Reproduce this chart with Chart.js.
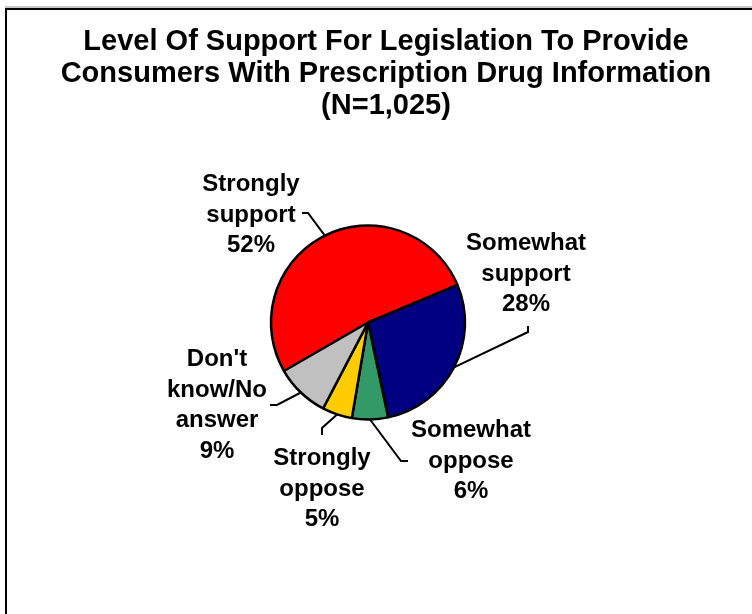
<!DOCTYPE html>
<html>
<head>
<meta charset="utf-8">
<script src="https://cdn.jsdelivr.net/npm/chart.js@4"></script>
<style>
  html, body { margin: 0; padding: 0; background: #fff; }
  #wrap { position: relative; width: 752px; height: 614px; overflow: hidden; }
  #frame { position: absolute; left: 5px; top: 8px; width: 760px; height: 640px;
           border-left: 2px solid #000; border-top: 2px solid #000; }
  #topShade { position: absolute; left: 5px; top: 6px; width: 760px; height: 2px; background: #c8c8c8; }
  canvas { position: absolute; left: 0; top: 0; }
</style>
</head>
<body>
<div id="wrap">
  <div id="topShade"></div>
  <div id="frame"></div>
  <canvas id="pieChart" width="752" height="614"></canvas>
</div>
<script>
// ---------------- Data ----------------
const titleLines = ["Level Of Support For Legislation To Provide", "Consumers With Prescription Drug Information", "(N=1,025)"];
const categories = ["Strongly support", "Somewhat support", "Somewhat oppose", "Strongly oppose", "Don't know/No answer"];
const percentages = [52, 28, 6, 5, 9];
const labelWords = [["Strongly", "support"], ["Somewhat", "support"], ["Somewhat", "oppose"], ["Strongly", "oppose"], ["Don't", "know/No", "answer"]];
const sliceColors = ["#ff0000", "#000080", "#339966", "#ffcc00", "#c0c0c0"];

// label placement: text centre x, first baseline y, leader elbow and end
const labelPlaces = [
  { x: 251, y: 191, elbow: [308, 213], end: [302, 213] },
  { x: 526, y: 250, elbow: [528, 332], end: [528, 326] },
  { x: 471, y: 437, elbow: [401, 461], end: [408, 461] },
  { x: 322, y: 465, elbow: [322, 428], end: [322, 435] },
  { x: 217, y: 366, elbow: [277, 405], end: [270, 405] }
];

const FONT = "'Liberation Sans', Arial, sans-serif";

// ---------------- Title + labels plugin ----------------
const textPlugin = {
  id: "textPlugin",
  afterDraw(chart) {
    const ctx = chart.ctx;
    ctx.save();
    ctx.fillStyle = "#000";
    ctx.textAlign = "center";
    ctx.textBaseline = "alphabetic";

    ctx.font = "bold 29px " + FONT;
    titleLines.forEach((line, i) => ctx.fillText(line, 386, 50 + i * 32));

    const arcs = chart.getDatasetMeta(0).data;
    ctx.font = "bold 24px " + FONT;
    ctx.lineWidth = 2;
    ctx.strokeStyle = "#000";
    arcs.forEach((arc, i) => {
      const p = arc.getProps(["x", "y", "startAngle", "endAngle", "outerRadius"], true);
      const mid = (p.startAngle + p.endAngle) / 2;
      const sx = p.x + Math.cos(mid) * p.outerRadius;
      const sy = p.y + Math.sin(mid) * p.outerRadius;
      const place = labelPlaces[i];
      ctx.beginPath();
      ctx.moveTo(sx, sy);
      ctx.lineTo(place.elbow[0], place.elbow[1]);
      ctx.lineTo(place.end[0], place.end[1]);
      ctx.stroke();

      const lines = labelWords[i].concat([percentages[i] + "%"]);
      lines.forEach((t, j) => ctx.fillText(t, place.x, place.y + j * 30.7));
    });
    ctx.restore();
  }
};

// ---------------- Pie ----------------
const ctx = document.getElementById("pieChart").getContext("2d");
new Chart(ctx, {
  type: "pie",
  data: {
    labels: categories,
    datasets: [{
      data: percentages,
      backgroundColor: sliceColors,
      borderColor: "#000",
      borderWidth: 2.5
    }]
  },
  options: {
    responsive: false,
    animation: false,
    rotation: 240,
    radius: 97,
    layout: { padding: { left: 271, right: 287, top: 225, bottom: 194 } },
    plugins: {
      legend: { display: false },
      tooltip: { enabled: false },
      title: { display: false }
    }
  },
  plugins: [textPlugin]
});
</script>
</body>
</html>
